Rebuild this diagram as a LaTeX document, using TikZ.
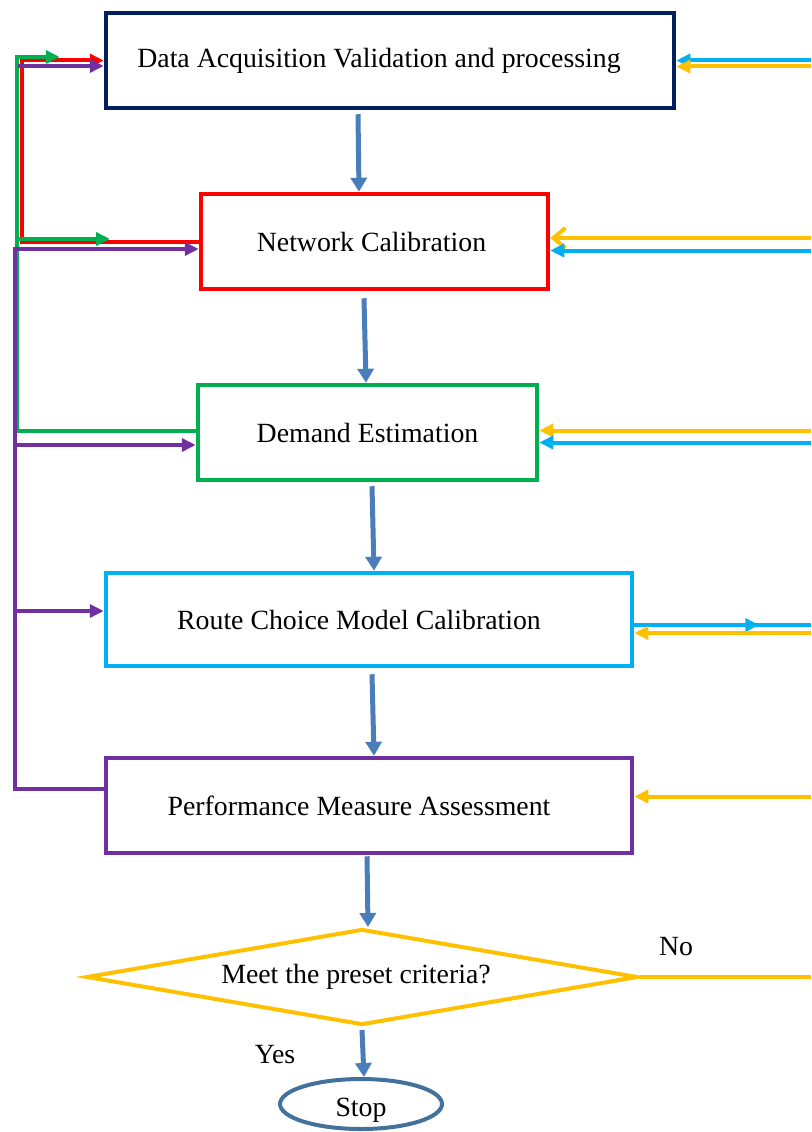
\documentclass[tikz,border=0pt]{standalone}
\usepackage{fontspec}
\setmainfont{Liberation Serif}
\usetikzlibrary{shapes.geometric,arrows.meta}
\definecolor{boxnavy}{HTML}{002060}
\definecolor{boxred}{HTML}{FF0000}
\definecolor{boxgreen}{HTML}{00B050}
\definecolor{boxcyan}{HTML}{00B0F0}
\definecolor{boxpurple}{HTML}{7030A0}
\definecolor{boxyellow}{HTML}{FFC000}
\definecolor{flowblue}{HTML}{4A7EBB}
\definecolor{stopblue}{HTML}{41719C}
\begin{document}
\begin{tikzpicture}[x=1pt,y=-1pt,
    step box/.style={rectangle, draw, line width=4.5pt, inner sep=0pt, minimum height=95pt},
    flow line/.style={draw=flowblue, line width=5pt, -{Triangle[length=14pt,width=16pt]}},
    back line/.style={line width=4pt, -{Triangle[length=14pt,width=13pt]}}]
        \tikzstyle{every node}=[font=\fontsize{27.8pt}{33pt}\selectfont]
        \useasboundingbox (0,0) rectangle (811,1132);

          % process boxes
          \node[step box, draw=boxnavy, minimum width=568pt] (data) at (390,60.5) {Data Acquisition Validation and processing\hspace*{22pt}};
          \node[step box, draw=boxred, minimum width=347pt] (net) at (374.5,241.5) {Network Calibration\hspace*{6pt}};
          \node[step box, draw=boxgreen, minimum width=339pt] (dem) at (367.5,432.5) {Demand Estimation};
          \node[step box, draw=boxcyan, minimum width=526pt, minimum height=93pt] (route) at (369,619.5) {Route Choice Model Calibration\hspace*{20pt}};
          \node[step box, draw=boxpurple, minimum width=526pt] (perf) at (369,805.5) {Performance Measure Assessment\hspace*{20pt}};
          \node[diamond, aspect=5.74, draw=boxyellow, line width=4pt, inner sep=0pt, minimum width=551pt, minimum height=96pt] (crit) at (362,977) {Meet the preset criteria?\hspace*{12pt}};
          \node[ellipse, draw=stopblue, line width=4pt, inner sep=0pt, minimum width=162pt, minimum height=50pt] (stop) at (361,1104) {\raisebox{-12pt}[0pt][0pt]{Stop}};
          \node (no) at (676,947) {No};
          \node (yes) at (275,1055) {Yes};

          \coordinate (pbus) at (15,0);
          \coordinate (redge) at (811,0);

          % main flow
          \draw[flow line] ([xshift=-32pt,yshift=-4pt]data.south) -- ([xshift=-15.5pt]net.north);
          \draw[flow line] ([xshift=-10.5pt,yshift=-7pt]net.south) -- ([xshift=-1.5pt]dem.north);
          \draw[flow line] ([xshift=4.5pt,yshift=-4pt]dem.south) -- ([xshift=5pt]route.north);
          \draw[flow line] ([xshift=3pt,yshift=-6pt]route.south) -- ([xshift=5pt]perf.north);
          \draw[flow line] ([xshift=-2pt,yshift=-1pt]perf.south) -- ([xshift=6pt]crit.north);
          \draw[flow line] ([yshift=-3pt]crit.south) -- ([xshift=3pt]stop.north);

          % feedback on the left
          \draw[back line, draw=boxred] (net.west) -- ++(-177,0) |- (data.west);
          \draw[back line, draw=boxgreen] ([yshift=2pt]dem.west) -- ++(-179,0) |- ++(43,-373.5);
          \draw[back line, draw=boxgreen] (19,239) -- (110,239);
          \draw[back line, draw=boxpurple] ([yshift=17pt]perf.west) -| ([yshift=-7.5pt]net.west -| pbus) -- ([yshift=-7.5pt]net.west);
          \draw[back line, draw=boxpurple] ([yshift=-12.5pt]dem.west -| pbus) -- ([yshift=-12.5pt]dem.west);
          \draw[back line, draw=boxpurple] ([yshift=8.5pt]route.west -| pbus) -- ([yshift=8.5pt]route.west);
          \draw[back line, draw=boxpurple] ([xshift=-86pt,yshift=-5.5pt]data.west) -- ([yshift=-5.5pt]data.west);

          % feedback on the right
          \draw[back line, draw=boxcyan] (data.east -| redge) -- (data.east);
          \draw[back line, draw=boxyellow] ([yshift=-6pt]data.east -| redge) -- ([yshift=-6pt]data.east);
          \draw[line width=4pt, draw=boxyellow, -{Straight Barb[length=12pt,width=20pt]}] ([yshift=3.5pt]net.east -| redge) -- ([yshift=3.5pt]net.east);
          \draw[back line, draw=boxcyan] ([yshift=-9pt]net.east -| redge) -- ([yshift=-9pt]net.east);
          \draw[back line, draw=boxyellow] ([yshift=2pt]dem.east -| redge) -- ([yshift=2pt]dem.east);
          \draw[back line, draw=boxcyan] ([yshift=-10pt]dem.east -| redge) -- ([yshift=-10pt]dem.east);
          \draw[line width=4pt, draw=boxcyan] ([yshift=-5.5pt]route.east) -- ([yshift=-5.5pt]route.east -| redge);
          \draw[back line, draw=boxcyan] ([yshift=-5.5pt]route.east) -- ++(125,0);
          \draw[back line, draw=boxyellow] ([yshift=-13.5pt]route.east -| redge) -- ([yshift=-13.5pt]route.east);
          \draw[back line, draw=boxyellow] ([yshift=9pt]perf.east -| redge) -- ([yshift=9pt]perf.east);
          \draw[line width=4pt, draw=boxyellow] (crit.east) -- (crit.east -| redge);

        \end{tikzpicture}
\end{document}
